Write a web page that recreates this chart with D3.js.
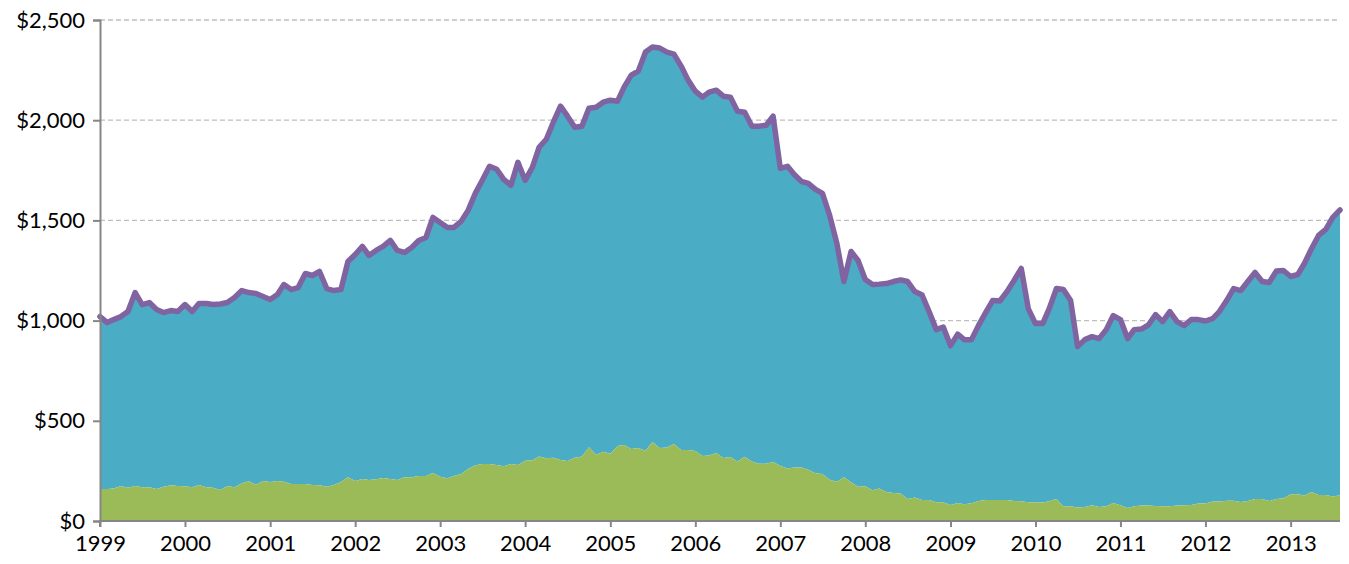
<!DOCTYPE html>
<html>
<head>
<meta charset="utf-8">
<script src="https://cdn.jsdelivr.net/npm/d3@7/dist/d3.min.js"></script>
<style>
  body { margin: 0; background: #ffffff; }
  text { font-family: Lato, "Open Sans", "Liberation Sans", sans-serif; font-size: 22px; fill: #000000; }
</style>
</head>
<body>
<svg id="my-svg"></svg>
<script>

// monthly values, Jan 1999 .. Aug 2013
let totalValues = [
  1020, 990, 1005, 1020, 1045, 1140, 1080, 1090, 1055, 1040, 1050, 1045,
  1080, 1045, 1085, 1085, 1080, 1083, 1090, 1115, 1150, 1140, 1135, 1120,
  1105, 1130, 1180, 1155, 1165, 1235, 1225, 1245, 1160, 1150, 1155, 1295,
  1330, 1370, 1325, 1350, 1370, 1400, 1350, 1340, 1365, 1400, 1415, 1515,
  1490, 1465, 1465, 1495, 1550, 1635, 1700, 1770, 1755, 1705, 1675, 1790,
  1700, 1765, 1865, 1905, 1990, 2070, 2020, 1965, 1970, 2060, 2065, 2090,
  2100, 2095, 2165, 2225, 2245, 2340, 2365, 2360, 2340, 2330, 2270, 2200,
  2145, 2115, 2140, 2150, 2120, 2115, 2045, 2040, 1970, 1970, 1975, 2020,
  1760, 1770, 1730, 1695, 1685, 1655, 1635, 1525, 1385, 1195, 1345, 1300,
  1205, 1180, 1182, 1185, 1195, 1203, 1195, 1145, 1128, 1045, 955, 968,
  875, 932, 905, 905, 975, 1040, 1100, 1098, 1145, 1200, 1260, 1060,
  985, 985, 1060, 1160, 1155, 1100, 870, 905, 920, 910, 955, 1025,
  1005, 910, 955, 958, 978, 1030, 995, 1045, 995, 975, 1005, 1005,
  998, 1010, 1045, 1100, 1160, 1150, 1195, 1240, 1195, 1190, 1248, 1250,
  1220, 1230, 1285, 1360, 1425, 1455, 1515, 1552
];

let greenValues = [
  160, 160, 162, 175, 166, 175, 168, 168, 160, 171, 178, 175,
  173, 168, 180, 168, 166, 155, 175, 168, 188, 198, 181, 200,
  195, 200, 196, 185, 185, 185, 180, 178, 171, 180, 195, 218,
  200, 210, 205, 208, 215, 210, 205, 218, 218, 225, 225, 240,
  221, 213, 225, 235, 260, 278, 285, 285, 280, 273, 285, 280,
  301, 303, 322, 313, 315, 305, 300, 315, 322, 368, 330, 345,
  335, 374, 379, 359, 364, 351, 394, 364, 367, 384, 354, 354,
  349, 324, 327, 339, 314, 319, 297, 321, 297, 286, 286, 294,
  276, 262, 267, 267, 256, 238, 235, 206, 196, 218, 193, 171,
  173, 153, 162, 145, 140, 137, 110, 117, 105, 105, 93, 93,
  80, 90, 83, 88, 100, 105, 105, 105, 105, 100, 98, 93,
  92, 92, 98, 110, 73, 73, 67, 70, 78, 70, 73, 90,
  78, 65, 73, 77, 77, 75, 73, 73, 77, 78, 80, 87,
  87, 97, 97, 101, 101, 95, 100, 110, 110, 100, 110, 113,
  133, 133, 127, 145, 130, 130, 122, 128
];

let yTicks = [0, 500, 1000, 1500, 2000, 2500];
let yearLabels = [1999, 2000, 2001, 2002, 2003, 2004, 2005, 2006, 2007, 2008, 2009, 2010, 2011, 2012, 2013];

let months = totalValues.map((v, i) => new Date(1999, i, 1));

d3.select("#my-svg")
      .attr('height', '564')
      .attr('width', '1349');

let oLayer = d3.select("#my-svg");

let xScale = d3.scaleTime()
                .domain([months[0], months[months.length - 1]])
                .range([100, 1340]);

let yScale = d3.scaleLinear()
                .domain([0, 2500])
                .range([521, 20]);

function drawGrid(){
    oLayer.selectAll('line.grid')
        .data(yTicks.filter(d => d > 0))
        .enter().append('line')
            .attr('class', 'grid')
            .attr('x1', 100)
            .attr('x2', 1340)
            .attr('y1', d => yScale(d))
            .attr('y2', d => yScale(d))
            .attr('stroke', '#bfbfbf')
            .attr('stroke-width', 1.3)
            .attr('stroke-dasharray', '5,3');
}

function drawAreas(){
    let blueArea = d3.area()
        .x((d, i) => xScale(months[i]))
        .y0((d, i) => yScale(greenValues[i]))
        .y1(d => yScale(d));

    let greenArea = d3.area()
        .x((d, i) => xScale(months[i]))
        .y0(yScale(0))
        .y1(d => yScale(d));

    oLayer.append('path')
        .datum(totalValues)
        .attr('d', blueArea)
        .attr('fill', '#4bacc6');

    oLayer.append('path')
        .datum(greenValues)
        .attr('d', greenArea)
        .attr('fill', '#9bbb59');

    let totalLine = d3.line()
        .x((d, i) => xScale(months[i]))
        .y(d => yScale(d));

    oLayer.append('path')
        .datum(totalValues)
        .attr('d', totalLine)
        .attr('fill', 'none')
        .attr('stroke', '#8064a2')
        .attr('stroke-width', 5.5)
        .attr('stroke-linejoin', 'round')
        .attr('stroke-linecap', 'round');
}

function drawAxes(){
    let yAxis = d3.axisLeft(yScale)
        .tickValues(yTicks)
        .tickSize(7)
        .tickPadding(8)
        .tickFormat(d => '$' + d3.format(',')(d));

    let gy = oLayer.append('g')
        .attr('transform', 'translate(100,0)')
        .call(yAxis);

    let xAxis = d3.axisBottom(xScale)
        .tickValues(yearLabels.map(y => new Date(y, 0, 1)))
        .tickSize(6)
        .tickPadding(8)
        .tickFormat(d3.timeFormat('%Y'));

    let gx = oLayer.append('g')
        .attr('transform', 'translate(0,521)')
        .call(xAxis);

    [gx, gy].forEach(g => {
        g.select('.domain').attr('stroke', '#868686').attr('stroke-width', 2);
        g.selectAll('.tick line').attr('stroke', '#868686').attr('stroke-width', 2);
        g.selectAll('.tick text')
            .attr('fill', '#000000')
            .style('font-size', '22px')
            .style('font-family', 'Lato, "Open Sans", "Liberation Sans", sans-serif');
    });
    // x domain should not run past the last month
    gx.select('.domain').attr('d', 'M100,6V0H1340');
}

drawGrid();
drawAreas();
drawAxes();

</script>
</body>
</html>
